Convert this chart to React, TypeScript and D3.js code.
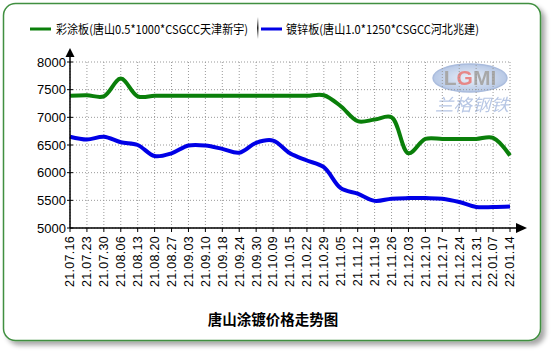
import * as d3 from "d3";

// dates shown on the x axis
const dates = [
  "21.07.16", "21.07.23", "21.07.30", "21.08.06", "21.08.13", "21.08.20",
  "21.08.27", "21.09.03", "21.09.10", "21.09.18", "21.09.24", "21.09.30",
  "21.10.09", "21.10.15", "21.10.22", "21.10.29", "21.11.05", "21.11.12",
  "21.11.19", "21.11.26", "21.12.03", "21.12.10", "21.12.17", "21.12.24",
  "21.12.31", "22.01.07", "22.01.14",
];

// 彩涂板
const colorCoated = [
  7390, 7400, 7380, 7700, 7380, 7390, 7390, 7390, 7390, 7390, 7390, 7390,
  7390, 7390, 7390, 7400, 7200, 6930, 6960, 7000, 6350, 6610, 6610, 6610,
  6610, 6630, 6310,
];

// 镀锌板
const galvanized = [
  6650, 6600, 6650, 6550, 6500, 6300, 6350, 6490, 6490, 6430, 6360, 6540,
  6580, 6350, 6220, 6100, 5720, 5620, 5490, 5530, 5540, 5540, 5530, 5470,
  5380, 5380, 5390,
];

const yTicks = [5000, 5500, 6000, 6500, 7000, 7500, 8000];

const legendItems = [
  { label: "彩涂板(唐山0.5*1000*CSGCC天津新宇)", color: "#0a7f0a" },
  { label: "镀锌板(唐山1.0*1250*CSGCC河北兆建)", color: "#0000e6" },
];

const width = 551;
const height = 351;
const margin = { top: 62, right: 41, bottom: 123, left: 70 };
const innerWidth = width - margin.left - margin.right;
const innerHeight = height - margin.top - margin.bottom;

export default function App() {
  const x = d3
    .scalePoint<string>()
    .domain(dates)
    .range([0, innerWidth]);

  const y = d3.scaleLinear().domain([5000, 8000]).range([innerHeight, 0]);

  const line = d3
    .line<number>()
    .x((_, i) => x(dates[i]) || 0)
    .y((d) => y(d))
    .curve(d3.curveCatmullRom.alpha(0.5));

  const font = "Arial, 'Liberation Sans', sans-serif";
  const cjk = "'Noto Sans CJK SC', sans-serif";

  return (
    <svg
      width={width}
      height={height}
      style={{ position: "absolute", left: 0, top: 0, background: "#fff" }}
    >
      <defs>
        <filter id="shadow" x="-5%" y="-5%" width="115%" height="115%">
          <feGaussianBlur in="SourceAlpha" stdDeviation="2.5" />
          <feOffset dx="4" dy="4" result="b" />
          <feComponentTransfer>
            <feFuncA type="linear" slope="0.35" />
          </feComponentTransfer>
          <feMerge>
            <feMergeNode />
            <feMergeNode in="SourceGraphic" />
          </feMerge>
        </filter>
        <linearGradient id="sep" x1="0" y1="0" x2="0" y2="1">
          <stop offset="0" stopColor="#fff" />
          <stop offset="0.5" stopColor="#222" />
          <stop offset="1" stopColor="#fff" />
        </linearGradient>
        <radialGradient id="logoBg" cx="0.5" cy="0.5" r="0.5">
          <stop offset="0" stopColor="#e4ecf8" />
          <stop offset="1" stopColor="#9fb6dd" />
        </radialGradient>
      </defs>

      {/* frame */}
      <rect
        x={3.5}
        y={3.5}
        width={537}
        height={337}
        rx={12}
        fill="#fff"
        stroke="#3f8f3f"
        strokeWidth={1.5}
        filter="url(#shadow)"
      />

      {/* legend */}
      <g fontFamily={cjk} fontSize={12} fill="#000">
        <line x1={30} x2={51} y1={29} y2={29} stroke={legendItems[0].color} strokeWidth={3} />
        <text x={56} y={33.5} textLength={192} lengthAdjust="spacingAndGlyphs">
          {legendItems[0].label}
        </text>
        <rect x={257} y={17} width={1.5} height={22} fill="url(#sep)" />
        <line x1={261} x2={282} y1={29} y2={29} stroke={legendItems[1].color} strokeWidth={3} />
        <text x={286} y={33.5} textLength={193} lengthAdjust="spacingAndGlyphs">
          {legendItems[1].label}
        </text>
      </g>

      {/* watermark */}
      <g opacity={0.75}>
        <ellipse cx={470} cy={78} rx={37} ry={14} fill="url(#logoBg)" />
        <ellipse cx={470} cy={78} rx={37} ry={14} fill="none" stroke="#8ea6d2" strokeWidth={1.5} />
        <text
          x={470}
          y={85}
          textAnchor="middle"
          fontFamily={font}
          fontSize={21}
          fontWeight="bold"
          fill="#8c8c8c"
        >
          L<tspan fill="#e06060">G</tspan>MI
        </text>
        <text
          x={472}
          y={111}
          textAnchor="middle"
          fontFamily={cjk}
          fontSize={17}
          fontStyle="italic"
          fill="#9fb4dc"
          textLength={74}
          lengthAdjust="spacingAndGlyphs"
        >
          兰格钢铁
        </text>
      </g>

      <g transform={`translate(${margin.left}, ${margin.top})`}>
        {/* grid */}
        {yTicks.map((t) => (
          <line
            key={`hy-${t}`}
            x1={0}
            x2={innerWidth}
            y1={y(t)}
            y2={y(t)}
            stroke="#999"
            strokeDasharray="1,2"
          />
        ))}
        {dates.map((d) => (
          <line
            key={`vx-${d}`}
            x1={x(d)}
            x2={x(d)}
            y1={0}
            y2={innerHeight}
            stroke="#999"
            strokeDasharray="1,2"
          />
        ))}

        {/* series */}
        <path
          d={line(colorCoated) || ""}
          fill="none"
          stroke={legendItems[0].color}
          strokeWidth={4}
          strokeLinejoin="round"
        />
        <path
          d={line(galvanized) || ""}
          fill="none"
          stroke={legendItems[1].color}
          strokeWidth={4}
          strokeLinejoin="round"
        />

        {/* y axis */}
        <line x1={0} x2={0} y1={innerHeight} y2={-7} stroke="#000" strokeWidth={1.5} />
        <path d="M0,-14 L-4.5,-5 L4.5,-5 Z" fill="#000" />
        {yTicks.map((t) => (
          <g key={`yt-${t}`} transform={`translate(0, ${y(t)})`}>
            <line x1={-3} x2={3} stroke="#000" />
            <text
              x={-4}
              dy="0.35em"
              textAnchor="end"
              fontFamily={font}
              fontSize={13}
              fill="#000"
            >
              {t}
            </text>
          </g>
        ))}

        {/* x axis */}
        <line x1={0} x2={innerWidth + 8} y1={innerHeight} y2={innerHeight} stroke="#000" strokeWidth={1.5} />
        <path
          d={`M${innerWidth + 17},${innerHeight} L${innerWidth + 6},${innerHeight - 5} L${innerWidth + 6},${innerHeight + 5} Z`}
          fill="#000"
        />
        {dates.map((d) => (
          <g key={`xt-${d}`} transform={`translate(${x(d)}, ${innerHeight})`}>
            <line y1={0} y2={4} stroke="#000" />
            <text
              transform="rotate(-90)"
              x={-8}
              dy="0.35em"
              textAnchor="end"
              fontFamily={font}
              fontSize={12.5}
              fill="#000"
              letterSpacing={0.3}
            >
              {d}
            </text>
          </g>
        ))}
      </g>

      {/* title */}
      <text
        x={273}
        y={325}
        textAnchor="middle"
        fontFamily={cjk}
        fontSize={14.5}
        fontWeight="bold"
        fill="#000"
      >
        唐山涂镀价格走势图
      </text>
    </svg>
  );
}
